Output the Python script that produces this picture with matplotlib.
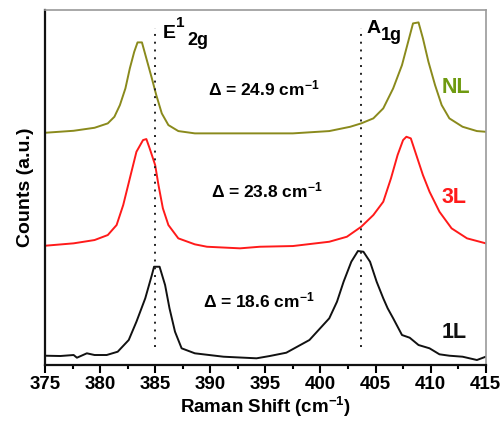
import matplotlib
matplotlib.use('Agg')
import matplotlib.pyplot as plt
from matplotlib.ticker import MultipleLocator

plt.rcParams['font.family'] = ['Liberation Sans', 'DejaVu Sans']
plt.rcParams['mathtext.fontset'] = 'custom'
plt.rcParams['mathtext.rm'] = 'Liberation Sans:bold'
plt.rcParams['mathtext.bf'] = 'Liberation Sans:bold'
plt.rcParams['mathtext.it'] = 'Liberation Sans:bold'

# Raman shift (cm-1) and counts (a.u., curves already offset)
nl_shift = [375.0, 377.6, 379.5, 380.7, 381.3, 381.8, 382.3, 382.7, 383.1, 383.4,
            383.8, 384.2, 384.7, 385.1, 385.6, 386.2, 387.1, 388.6, 391.2, 394.5,
            397.5, 400.8, 402.7, 403.7, 404.8, 405.7, 406.6, 407.4, 408.0, 408.4,
            408.9, 409.3, 409.8, 410.4, 411.0, 411.7, 412.9, 414.2, 415.0]
nl_counts = [232.3, 234.3, 237.3, 241.7, 248.3, 260.0, 276.7, 296.7, 313.3, 322.7,
             322.7, 306.7, 286.7, 270.0, 251.7, 240.0, 234.0, 231.7, 231.7, 231.7,
             231.7, 234.0, 238.3, 241.7, 246.7, 256.7, 276.7, 300.0, 325.0, 341.7,
             342.7, 326.7, 303.3, 280.0, 260.0, 246.7, 238.3, 234.0, 233.3]

l3_shift = [375.0, 377.6, 379.5, 380.7, 381.5, 382.1, 382.7, 383.3, 383.9, 384.2,
            384.5, 385.0, 385.3, 385.7, 386.2, 387.1, 388.6, 389.7, 392.7, 394.5,
            397.5, 400.8, 402.4, 403.7, 404.8, 405.7, 406.4, 407.0, 407.5, 407.8,
            408.2, 408.7, 409.3, 409.9, 410.8, 411.9, 413.3, 415.0]
l3_counts = [119.3, 121.7, 125.0, 130.0, 140.0, 160.0, 186.7, 213.3, 225.0, 226.0,
             216.7, 200.0, 180.0, 156.7, 140.0, 126.7, 120.7, 118.3, 116.7, 118.3,
             119.0, 123.3, 128.3, 138.3, 150.0, 163.3, 186.7, 210.0, 225.0, 228.3,
             226.7, 210.0, 190.0, 173.3, 153.3, 136.7, 126.7, 121.7]

l1_shift = [375.0, 376.4, 377.6, 377.9, 378.8, 379.5, 380.6, 381.6, 382.6, 383.3,
            384.1, 384.7, 384.9, 385.4, 385.9, 386.3, 386.8, 387.4, 388.6, 391.2,
            394.2, 395.4, 396.9, 399.0, 400.8, 401.5, 402.1, 402.8, 403.4, 403.9,
            404.5, 405.1, 405.7, 406.1, 406.6, 407.4, 408.1, 408.9, 409.9, 410.8,
            411.7, 412.9, 414.2, 415.0]
l1_counts = [9.3, 9.0, 10.0, 7.3, 11.7, 10.0, 10.0, 13.3, 25.0, 43.3,
             66.7, 90.0, 98.3, 98.3, 80.0, 56.7, 33.3, 16.7, 11.7, 8.3,
             6.7, 9.0, 12.3, 25.0, 46.7, 63.3, 83.3, 103.3, 114.0, 113.3,
             103.3, 83.3, 66.7, 56.7, 46.7, 30.0, 27.3, 20.0, 16.7, 10.7,
             9.3, 8.3, 5.0, 8.3]

e2g_pos = 385.0
a1g_pos = 403.7
deltas = ['24.9', '23.8', '18.6']

olive = '#8a8a1c'

fig = plt.figure(figsize=(5.02, 4.21), dpi=100)
ax = fig.add_axes([0.0896, 0.133, 0.878, 0.843])

ax.plot(nl_shift, nl_counts, color=olive, lw=1.4)
ax.plot(l3_shift, l3_counts, color='#ff1a1a', lw=1.4)
ax.plot(l1_shift, l1_counts, color='#111111', lw=1.4)

for pos in (e2g_pos, a1g_pos):
    ax.vlines(pos, 18, 337, colors='#222222', linestyles=(0, (1, 3)), lw=1.4)

# mode labels built from pieces so the sub/superscripts keep their size
ax.annotate('E', (385.7, 327), fontsize=14, fontweight='bold', va='baseline')
ax.annotate('1', (385.7, 327), xytext=(9.6, 8.0), textcoords='offset points',
            fontsize=11, fontweight='bold', va='baseline')
ax.annotate('2g', (385.7, 327), xytext=(17.5, -4.8), textcoords='offset points',
            fontsize=13, fontweight='bold', va='baseline')
ax.annotate('A', (404.2, 332), fontsize=14, fontweight='bold', va='baseline')
ax.annotate('1g', (404.2, 332), xytext=(10.3, -5.0), textcoords='offset points',
            fontsize=13, fontweight='bold', va='baseline')

for xpos, ypos, d in zip((389.8, 390.1, 389.3), (270, 168, 58), deltas):
    ax.text(xpos, ypos, '\u0394 = ' + d + r' cm$^{-1}$', fontsize=12.5,
            fontweight='bold')

ax.text(411.0, 272, 'NL', color='#6f9a10', fontsize=15.5, fontweight='bold')
ax.text(411.0, 162, '3L', color='#ff1a1a', fontsize=15.5, fontweight='bold')
ax.text(411.0, 27, '1L', color='#111111', fontsize=15.5, fontweight='bold')

ax.set_xlim(375, 415)
ax.set_ylim(0, 355)
ax.xaxis.set_major_locator(MultipleLocator(5))
ax.xaxis.set_minor_locator(MultipleLocator(2.5))
ax.set_yticks([])
ax.tick_params(axis='x', which='major', direction='out', length=6, width=1.5,
               labelsize=13.5, pad=2)
ax.tick_params(axis='x', which='minor', direction='out', length=3, width=1.5)
for lab in ax.get_xticklabels():
    lab.set_fontweight('bold')

for side in ('left', 'bottom'):
    ax.spines[side].set_linewidth(1.6)
    ax.spines[side].set_color('#111111')
for side in ('top', 'right'):
    ax.spines[side].set_linewidth(1.2)
    ax.spines[side].set_color('#9a9a9a')

ax.set_xlabel(r'Raman Shift (cm$^{-1}$)', fontsize=13.5, fontweight='bold', labelpad=1)
ax.set_ylabel('Counts (a.u.)', fontsize=14, fontweight='bold', labelpad=8)

fig.savefig('out.png', dpi=100)
plt.close()
